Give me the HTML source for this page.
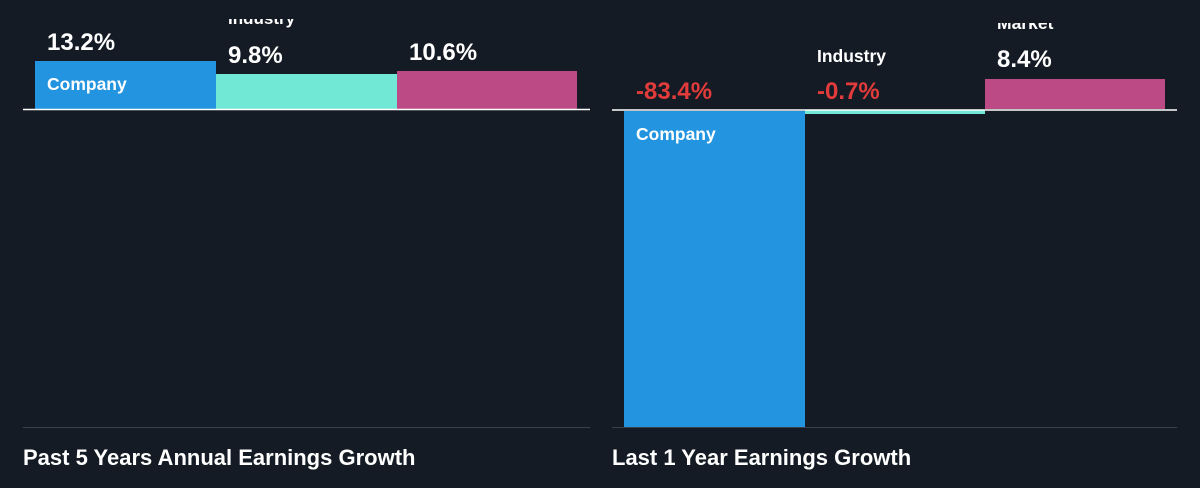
<!DOCTYPE html>
<html><head><style>
html,body{margin:0;padding:0;background:#151b24;}
svg{display:block;font-family:"Liberation Sans",Arial,sans-serif;}
</style></head><body>
<svg width="1200" height="488" viewBox="0 0 1200 488">
<defs>
<clipPath id="c1"><rect x="0" y="19" width="1200" height="500"/></clipPath>
<clipPath id="c2"><rect x="0" y="23" width="1200" height="500"/></clipPath>
</defs>
<rect width="1200" height="488" fill="#151b24"/>
<!-- Left panel -->
<rect x="35" y="61" width="181" height="48" fill="#2394df"/>
<rect x="216" y="74" width="181" height="35" fill="#71e7d6"/>
<rect x="397" y="71" width="180" height="38" fill="#bb4a85"/>
<line x1="23" y1="109.5" x2="590" y2="109.5" stroke="#fff" stroke-width="1.5"/>
<line x1="23" y1="427.5" x2="590" y2="427.5" stroke="#3a414c" stroke-width="1"/>
<text x="47" y="50" fill="#fff" font-size="24" font-weight="bold">13.2%</text>
<text x="228" y="63" fill="#fff" font-size="24" font-weight="bold">9.8%</text>
<text x="409" y="60" fill="#fff" font-size="24" font-weight="bold">10.6%</text>
<text x="228" y="24" fill="#fff" font-size="17" font-weight="bold" clip-path="url(#c1)">Industry</text>
<text x="47" y="90" fill="#fff" font-size="17.5" font-weight="bold">Company</text>
<text x="23" y="465" fill="#fff" font-size="22" font-weight="bold">Past 5 Years Annual Earnings Growth</text>
<!-- Right panel -->
<rect x="624" y="111" width="181" height="316" fill="#2394df"/>
<rect x="805" y="110" width="180" height="4" fill="#71e7d6"/>
<rect x="985" y="79" width="180" height="30" fill="#bb4a85"/>
<line x1="612" y1="110" x2="1177" y2="110" stroke="#fff" stroke-width="1.5"/>
<line x1="612" y1="427.5" x2="1177" y2="427.5" stroke="#3a414c" stroke-width="1"/>
<text x="636" y="99" fill="#e23b3b" font-size="24" font-weight="bold">-83.4%</text>
<text x="817" y="99" fill="#e23b3b" font-size="24" font-weight="bold">-0.7%</text>
<text x="997" y="67" fill="#fff" font-size="24" font-weight="bold">8.4%</text>
<text x="817" y="62" fill="#fff" font-size="17.5" font-weight="bold">Industry</text>
<text x="997" y="29" fill="#fff" font-size="17.5" font-weight="bold" clip-path="url(#c2)">Market</text>
<text x="636" y="140" fill="#fff" font-size="17.5" font-weight="bold">Company</text>
<text x="612" y="465" fill="#fff" font-size="22" font-weight="bold">Last 1 Year Earnings Growth</text>
</svg>
</body></html>
